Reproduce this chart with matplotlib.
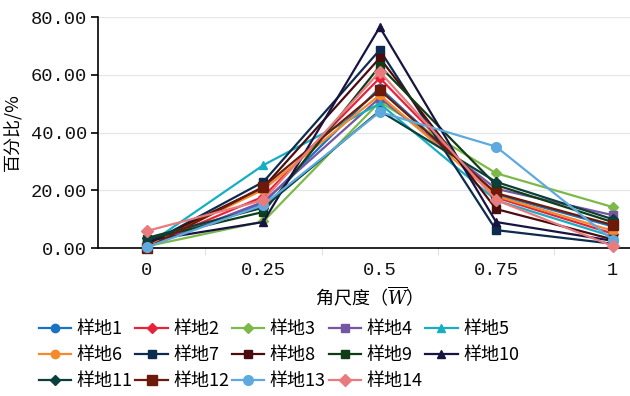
import matplotlib
matplotlib.use("Agg")
import matplotlib.pyplot as plt
from matplotlib.ticker import FixedLocator, FormatStrFormatter

plt.rcParams['font.family'] = ['Noto Sans CJK SC', 'DejaVu Sans']
plt.rcParams['mathtext.fontset'] = 'dejavuserif'

# 角尺度取值
categories = ["0", "0.25", "0.5", "0.75", "1"]

# 各样地在不同角尺度下的百分比
plot1 = [0.5, 15.5, 55.5, 18.5, 7.5]
plot2 = [0.8, 17.8, 58.9, 17.5, 5.0]
plot3 = [0.6, 9.2, 50.6, 25.9, 14.2]
plot4 = [0.5, 16.0, 52.0, 20.5, 11.4]
plot5 = [1.0, 28.7, 50.0, 16.5, 4.0]
plot6 = [0.8, 20.2, 53.0, 18.0, 6.0]
plot7 = [1.2, 22.9, 68.6, 6.2, 1.5]
plot8 = [1.5, 21.0, 65.8, 13.5, 3.0]
plot9 = [3.0, 12.5, 63.0, 21.8, 9.0]
plot10 = [2.5, 9.0, 76.5, 9.0, 2.5]
plot11 = [3.5, 14.0, 47.5, 22.9, 10.0]
plot12 = [0.0, 21.2, 54.7, 19.0, 8.0]
plot13 = [0.3, 14.9, 47.1, 35.1, 2.8]
plot14 = [5.9, 16.6, 61.0, 16.6, 0.7]

series = [plot1, plot2, plot3, plot4, plot5, plot6, plot7,
          plot8, plot9, plot10, plot11, plot12, plot13, plot14]
names = ["样地%d" % (i + 1) for i in range(len(series))]

colors = ["#1a73c2", "#e5243b", "#7db84a", "#7456a3", "#17aec3",
          "#f58a2b", "#0c2b4f", "#4b0c0f", "#113d16", "#17153f",
          "#0b3f3b", "#6c1b0b", "#5eaade", "#e87b7d"]
markers = ["o", "D", "D", "s", "^", "o", "s", "s", "s", "^", "D", "s", "o", "D"]
msizes = [6, 5, 5, 6, 6, 6, 6, 6, 6, 6, 5, 7, 7, 6]

fig = plt.figure(figsize=(6.3, 3.96), dpi=100)
ax = fig.add_axes([0.1556, 0.3737, 0.8444, 0.5833])

x = list(range(len(categories)))
lines = []
for vals, name, c, m, ms in zip(series, names, colors, markers, msizes):
    ln, = ax.plot(x, vals, color=c, marker=m, markersize=ms, linewidth=1.6,
                  label=name, clip_on=False, zorder=3)
    lines.append(ln)

ax.set_xlim(-0.42, 4.15)
ax.set_ylim(0, 80)
ax.set_yticks([0, 20, 40, 60, 80])
ax.yaxis.set_major_formatter(FormatStrFormatter("%.2f"))
ax.grid(axis='y', color="#e6e6e6", linewidth=0.9, zorder=0)

ax.set_xticks(x)
ax.set_xticklabels(categories)
ax.xaxis.set_minor_locator(FixedLocator([-0.5, 0.5, 1.5, 2.5, 3.5]))
ax.tick_params(axis='x', which='major', length=0, pad=10)
ax.tick_params(axis='x', which='minor', length=5, color="#d9d9d9")
ax.tick_params(axis='y', length=5, width=1.2, pad=3)

for lab in ax.get_xticklabels() + ax.get_yticklabels():
    lab.set_fontfamily('Liberation Mono')
    lab.set_fontsize(13.5)
    lab.set_color('#111111')

for side in ['top', 'right']:
    ax.spines[side].set_visible(False)
ax.spines['left'].set_linewidth(1.2)
ax.spines['bottom'].set_linewidth(1.2)

ax.set_ylabel("百分比/%", fontsize=13, labelpad=6)
ax.set_xlabel("角尺度（$\\overline{W}$）", fontsize=13, labelpad=4)

# 图例按行排列：5列3行
order = [0, 5, 10, 1, 6, 11, 2, 7, 12, 3, 8, 13, 4, 9]
fig.legend([lines[i] for i in order], [names[i] for i in order],
           loc='upper left', bbox_to_anchor=(0.05, 0.21), ncol=5,
           frameon=False, fontsize=13, handlelength=1.8, handletextpad=0.3,
           columnspacing=0.15, labelspacing=0.45, borderaxespad=0)

fig.savefig("out.png", dpi=100)
